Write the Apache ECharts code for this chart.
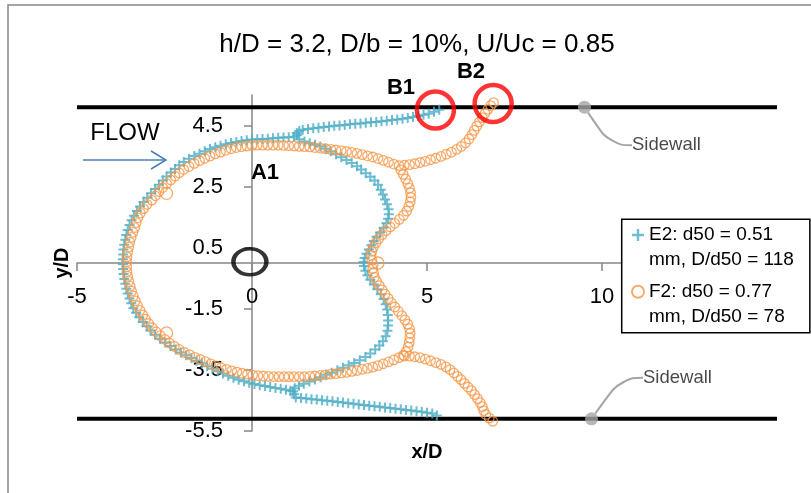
<!DOCTYPE html>
<html><head><meta charset="utf-8">
<script src="https://cdn.jsdelivr.net/npm/echarts@6/dist/echarts.min.js"></script>
<style>html,body{margin:0;padding:0;background:#fff}#c{width:811px;height:493px}</style>
</head><body><div id="c"></div>
<script>
const FONT = '"Liberation Sans", Arial, sans-serif';
const titleText = 'h/D = 3.2, D/b = 10%, U/Uc = 0.85';
const xTicks = [-5, 0, 5, 10, 15];
const yTicks = [-5.5, -3.5, -1.5, 0.5, 2.5, 4.5];
const seriesNames = ['\nE2: d50 = 0.51\nmm, D/d50 = 118', '\nF2: d50 = 0.77\nmm, D/d50 = 78'];

// E2 (blue +)
const e2Upper = [[5.35,5.02],[5.2,4.95],[5.05,4.89],[4.9,4.85],[4.75,4.81],[4.6,4.78],[4.45,4.75],[4.3,4.72],[4.15,4.7],[4.0,4.68],[3.85,4.66],[3.7,4.64],[3.55,4.62],[3.4,4.61],[3.25,4.59],[3.1,4.57],[2.95,4.56],[2.8,4.54],[2.65,4.52],[2.5,4.5],[2.35,4.49],[2.2,4.47],[2.05,4.45],[1.9,4.43],[1.75,4.41],[1.6,4.39],[1.45,4.36],[1.35,4.32],[1.28,4.26],[1.29,4.18]];
const e2Outer = [[1.2,4.13],[1.05,4.12],[0.9,4.11],[0.75,4.1],[0.6,4.08],[0.45,4.07],[0.3,4.06],[0.15,4.05],[0.0,4.04],[-0.15,4.02],[-0.3,3.99],[-0.45,3.96],[-0.6,3.93],[-0.75,3.89],[-0.9,3.84],[-1.05,3.79],[-1.2,3.73],[-1.35,3.66],[-1.5,3.58],[-1.65,3.5],[-1.8,3.41],[-1.95,3.31],[-2.08,3.2],[-2.2,3.08],[-2.32,2.96],[-2.44,2.83],[-2.55,2.7],[-2.66,2.56],[-2.77,2.42],[-2.88,2.28],[-2.99,2.14],[-3.1,2.0],[-3.2,1.85],[-3.29,1.7],[-3.37,1.55],[-3.44,1.4],[-3.5,1.24],[-3.55,1.08],[-3.59,0.92],[-3.62,0.76],[-3.65,0.6],[-3.67,0.44],[-3.68,0.28],[-3.69,0.12],[-3.69,-0.04],[-3.68,-0.2],[-3.67,-0.36],[-3.65,-0.52],[-3.62,-0.68],[-3.59,-0.84],[-3.55,-1.0],[-3.5,-1.16],[-3.45,-1.32],[-3.39,-1.48],[-3.31,-1.63],[-3.22,-1.78],[-3.12,-1.93],[-3.01,-2.07],[-2.9,-2.21],[-2.77,-2.35],[-2.63,-2.48],[-2.48,-2.6],[-2.33,-2.72],[-2.18,-2.83],[-2.03,-2.93],[-1.88,-3.02],[-1.73,-3.11],[-1.58,-3.2],[-1.43,-3.29],[-1.28,-3.38],[-1.13,-3.46],[-0.98,-3.54],[-0.83,-3.62],[-0.68,-3.69],[-0.53,-3.76],[-0.38,-3.82],[-0.23,-3.87],[-0.08,-3.92],[0.07,-3.96],[0.22,-4.0],[0.37,-4.03],[0.52,-4.06],[0.67,-4.09],[0.82,-4.12],[0.97,-4.15],[1.1,-4.18]];
const e2InnerTop = [[1.35,4.05],[1.5,3.98],[1.65,3.92],[1.8,3.87],[1.95,3.81],[2.1,3.74],[2.25,3.66],[2.4,3.56],[2.55,3.46],[2.7,3.37],[2.85,3.27],[3.0,3.17],[3.12,3.06],[3.25,2.94],[3.38,2.82],[3.5,2.7],[3.6,2.56],[3.68,2.4],[3.74,2.24],[3.8,2.08],[3.86,1.92],[3.9,1.76],[3.91,1.6],[3.89,1.45],[3.84,1.3],[3.76,1.15],[3.66,1.0],[3.56,0.86],[3.48,0.72],[3.41,0.58],[3.34,0.44],[3.27,0.3],[3.22,0.16],[3.19,0.03]];
const e2InnerBottom = [[3.2,-0.1],[3.24,-0.25],[3.3,-0.4],[3.38,-0.55],[3.48,-0.7],[3.58,-0.86],[3.68,-1.02],[3.76,-1.18],[3.82,-1.35],[3.86,-1.52],[3.88,-1.7],[3.89,-1.88],[3.89,-2.05],[3.87,-2.22],[3.82,-2.4],[3.74,-2.56],[3.64,-2.7],[3.52,-2.83],[3.38,-2.96],[3.24,-3.08],[3.08,-3.18],[2.92,-3.27],[2.76,-3.35],[2.6,-3.43],[2.44,-3.51],[2.28,-3.59],[2.12,-3.66],[1.96,-3.74],[1.8,-3.81],[1.64,-3.88],[1.48,-3.95],[1.34,-4.02],[1.22,-4.1],[1.17,-4.2]];
const e2Lower = [[1.2,-4.3],[1.25,-4.4],[1.4,-4.42],[1.55,-4.44],[1.7,-4.46],[1.85,-4.47],[2.0,-4.49],[2.15,-4.51],[2.3,-4.53],[2.45,-4.55],[2.6,-4.57],[2.75,-4.59],[2.9,-4.61],[3.05,-4.63],[3.2,-4.65],[3.35,-4.67],[3.5,-4.69],[3.65,-4.71],[3.8,-4.73],[3.95,-4.75],[4.1,-4.77],[4.25,-4.79],[4.4,-4.81],[4.55,-4.83],[4.7,-4.85],[4.85,-4.87],[5.0,-4.9],[5.15,-4.93],[5.28,-4.99]];

// F2 (orange o)
const f2Upper = [[6.9,5.25],[6.82,5.15],[6.74,5.03],[6.66,4.9],[6.58,4.76],[6.5,4.62],[6.42,4.48],[6.35,4.34],[6.28,4.2],[6.2,4.06],[6.1,3.93],[5.98,3.82],[5.85,3.72],[5.7,3.63],[5.55,3.56],[5.4,3.49],[5.25,3.43],[5.1,3.38],[4.95,3.33],[4.8,3.29],[4.65,3.25],[4.5,3.22],[4.35,3.2],[4.2,3.19]];
const f2UpperLeft = [[4.05,3.24],[3.9,3.3],[3.75,3.36],[3.6,3.42],[3.45,3.47],[3.3,3.51],[3.15,3.55],[3.0,3.59],[2.85,3.62],[2.7,3.65],[2.55,3.68],[2.4,3.7],[2.25,3.72],[2.1,3.74],[1.95,3.76],[1.8,3.78],[1.65,3.8],[1.5,3.81],[1.35,3.82],[1.2,3.83],[1.05,3.84],[0.9,3.85]];
const f2Outer = [[0.75,3.86],[0.6,3.86],[0.45,3.86],[0.3,3.86],[0.15,3.86],[0.0,3.85],[-0.15,3.83],[-0.3,3.81],[-0.45,3.78],[-0.6,3.74],[-0.75,3.69],[-0.9,3.63],[-1.05,3.57],[-1.2,3.5],[-1.35,3.43],[-1.5,3.35],[-1.65,3.26],[-1.8,3.16],[-1.95,3.06],[-2.08,2.95],[-2.2,2.84],[-2.32,2.72],[-2.44,2.6],[-2.55,2.47],[-2.66,2.34],[-2.76,2.2],[-2.86,2.06],[-3.0,1.92],[-3.1,1.78],[-3.19,1.63],[-3.26,1.48],[-3.31,1.32],[-3.35,1.16],[-3.4,1.0],[-3.45,0.84],[-3.49,0.68],[-3.52,0.52],[-3.55,0.36],[-3.57,0.2],[-3.58,0.04],[-3.58,-0.12],[-3.57,-0.28],[-3.55,-0.44],[-3.52,-0.6],[-3.48,-0.76],[-3.44,-0.92],[-3.39,-1.08],[-3.33,-1.24],[-3.27,-1.4],[-3.2,-1.55],[-3.12,-1.7],[-3.04,-1.84],[-2.95,-1.98],[-2.85,-2.12],[-2.74,-2.25],[-2.62,-2.38],[-2.49,-2.5],[-2.36,-2.62],[-2.22,-2.73],[-2.08,-2.83],[-1.93,-2.93],[-1.78,-3.01],[-1.63,-3.09],[-1.48,-3.16],[-1.33,-3.23],[-1.18,-3.3],[-1.03,-3.37],[-0.88,-3.43],[-0.73,-3.48],[-0.58,-3.53],[-0.43,-3.57],[-0.28,-3.61],[-0.13,-3.64],[0.02,-3.67],[0.17,-3.69],[0.32,-3.7],[0.47,-3.71],[0.62,-3.72],[0.77,-3.72],[0.92,-3.72]];
const f2BottomLeft = [[1.05,-3.72],[1.2,-3.72],[1.35,-3.72],[1.5,-3.72],[1.65,-3.71],[1.8,-3.7],[1.95,-3.68],[2.1,-3.66],[2.25,-3.64],[2.4,-3.62],[2.55,-3.6],[2.7,-3.58],[2.85,-3.55],[3.0,-3.52],[3.15,-3.48],[3.3,-3.45],[3.45,-3.41],[3.6,-3.36],[3.75,-3.3],[3.9,-3.24],[4.05,-3.17],[4.2,-3.1]];
const f2BottomRight = [[4.35,-3.05],[4.5,-3.05],[4.65,-3.07],[4.8,-3.1],[4.95,-3.15],[5.1,-3.2],[5.25,-3.26],[5.4,-3.32],[5.54,-3.4],[5.66,-3.49],[5.77,-3.6],[5.87,-3.71],[5.97,-3.82],[6.07,-3.94],[6.17,-4.06],[6.27,-4.18],[6.36,-4.31],[6.44,-4.44],[6.52,-4.57],[6.58,-4.7],[6.62,-4.83],[6.68,-4.96],[6.78,-5.08],[6.88,-5.18]];
const f2InnerTop = [[4.25,3.05],[4.32,2.9],[4.39,2.75],[4.45,2.6],[4.5,2.45],[4.53,2.3],[4.54,2.15],[4.52,2.0],[4.48,1.85],[4.42,1.7],[4.33,1.56],[4.21,1.43],[4.08,1.3],[3.95,1.18],[3.83,1.06],[3.72,0.93],[3.62,0.8],[3.54,0.66],[3.47,0.52],[3.42,0.38],[3.4,0.24],[3.42,0.1],[3.46,-0.04]];
const f2InnerBottom = [[3.45,-0.18],[3.47,-0.32],[3.5,-0.46],[3.56,-0.6],[3.64,-0.74],[3.72,-0.88],[3.8,-1.02],[3.89,-1.16],[3.98,-1.3],[4.08,-1.44],[4.18,-1.58],[4.28,-1.72],[4.37,-1.86],[4.45,-2.0],[4.5,-2.15],[4.52,-2.3],[4.51,-2.45],[4.49,-2.6],[4.46,-2.75],[4.4,-2.9],[4.32,-3.02]];
const f2Large = [[-2.44,2.28],[-2.44,-2.29],[3.6,0.0]];

// walls and annotations (data coordinates)
const sidewallY = [5.1, -5.1];
const sidewallXRange = [-5, 15];
const sidewallMarkers = [[9.5, 5.1], [9.7, -5.1]];
const sidewallLabel = 'Sidewall';
const redCircles = [[5.24, 5.01], [6.89, 5.22]];
const originMark = [[-0.06, 0.04]];

const crossPath = 'path://M4,0H6V4H10V6H6V10H4V6H0V4H4Z';
const BLUE = '#4bacc6', ORANGE = '#f79646', AXIS = '#868686';

// grid geometry (pixels)
const G = {left: 77, right: 34, top: 95, bottom: 62};
const plotW = 811 - G.left - G.right, plotH = 493 - G.top - G.bottom;
const xZeroOffset = -plotW * (0 - xTicks[0]) / (xTicks[xTicks.length - 1] - xTicks[0]);
const yZeroOffset = -plotH * (0 - yTicks[0]) / (5.5 - yTicks[0]);

const chart = echarts.init(document.getElementById('c'), null, {renderer: 'canvas'});
const e2Data = [].concat(e2Upper, e2Outer, e2InnerTop, e2InnerBottom, e2Lower);
const f2Data = [].concat(f2Upper, f2UpperLeft, f2Outer, f2BottomLeft, f2BottomRight, f2InnerTop, f2InnerBottom)
  .concat(f2Large.map(p => ({value: p, symbolSize: 12})));

const option = {
  animation: false,
  backgroundColor: '#fff',
  grid: {left: G.left, right: G.right, top: G.top, bottom: G.bottom, containLabel: false, outerBoundsMode: 'none'},
  xAxis: {
    type: 'value', min: xTicks[0], max: xTicks[xTicks.length - 1], interval: 5,
    position: 'bottom', offset: yZeroOffset,
    axisLine: {onZero: false, lineStyle: {color: AXIS, width: 1.5}},
    axisTick: {show: true, length: 8, lineStyle: {color: AXIS, width: 1.5}},
    axisLabel: {fontSize: 22, color: '#000', fontFamily: FONT, margin: 23},
    splitLine: {show: false},
    name: 'x/D', nameLocation: 'middle', nameGap: 179,
    nameTextStyle: {fontSize: 20, fontWeight: 'bold', color: '#000', fontFamily: FONT}
  },
  yAxis: {
    type: 'value', min: yTicks[0], max: 5.5, interval: 2,
    position: 'left', offset: xZeroOffset,
    axisLine: {onZero: false, lineStyle: {color: AXIS, width: 1.5}},
    axisTick: {show: true, length: 8, lineStyle: {color: AXIS, width: 1.5}, customValues: yTicks},
    axisLabel: {fontSize: 22, color: '#000', fontFamily: FONT, margin: 29, customValues: yTicks},
    splitLine: {show: false},
    name: 'y/D', nameLocation: 'middle', nameGap: 180, nameRotate: 90,
    nameTextStyle: {fontSize: 20, fontWeight: 'bold', color: '#000', fontFamily: FONT}
  },
  legend: {
    data: seriesNames,
    orient: 'vertical',
    left: 621.7, top: 219.3,
    padding: [-21.8, 16, 3.5, 9.3],
    itemGap: -18.3,
    itemWidth: 12, itemHeight: 12, itemTextGap: 5,
    backgroundColor: '#fff', borderColor: '#000', borderWidth: 1.5,
    textStyle: {fontSize: 19, lineHeight: 25, color: '#000', fontFamily: FONT}
  },
  series: [
    {type: 'line', name: 'wallTop', data: sidewallXRange.map(x => [x, sidewallY[0]]), showSymbol: false, silent: true,
     lineStyle: {color: '#000', width: 4}, z: 2},
    {type: 'line', name: 'wallBottom', data: sidewallXRange.map(x => [x, sidewallY[1]]), showSymbol: false, silent: true,
     lineStyle: {color: '#000', width: 4}, z: 2},
    {type: 'scatter', name: seriesNames[0], data: e2Data, symbol: crossPath, symbolSize: 10,
     itemStyle: {color: BLUE}, z: 3},
    {type: 'scatter', name: seriesNames[1], data: f2Data, symbol: 'circle', symbolSize: 9.5,
     itemStyle: {color: 'rgba(0,0,0,0)', borderColor: ORANGE, borderWidth: 1.3}, z: 4},
    {type: 'scatter', name: 'sidewallMarks', data: sidewallMarkers, symbol: 'circle', symbolSize: 13,
     itemStyle: {color: '#a5a5a5'}, z: 5, silent: true,
     label: {show: true, position: 'right', distance: 5, formatter: sidewallLabel, fontSize: 18.5, color: '#1a1a1a', fontFamily: FONT},
     labelLine: {show: true, smooth: 0.5, length2: 22, lineStyle: {color: '#a5a5a5', width: 2}},
     labelLayout: function (p) { return p.dataIndex === 0 ? {dx: 36, dy: 38} : {dx: 40, dy: -41}; }
    },
    {type: 'scatter', name: 'redCircles', data: redCircles, symbol: 'circle', symbolSize: 37, silent: true,
     itemStyle: {color: 'rgba(0,0,0,0)', borderColor: '#ff0000', borderWidth: 4.5}, z: 6},
    {type: 'scatter', name: 'origin', data: originMark, symbol: 'circle', symbolSize: [33, 26], silent: true,
     itemStyle: {color: 'rgba(0,0,0,0)', borderColor: '#000', borderWidth: 4}, z: 6}
  ],
  graphic: [
    {type: 'rect', shape: {x: 8, y: 5, width: 830, height: 520}, style: {fill: 'none', stroke: '#878787', lineWidth: 1.5}, silent: true, z: -10},
    {type: 'text', x: 417, y: 45, style: {text: titleText, font: '26px ' + FONT, fill: '#000', align: 'center', verticalAlign: 'middle'}, z: 10},
    {type: 'text', x: 125, y: 133, style: {text: 'FLOW', font: '24px ' + FONT, fill: '#000', align: 'center', verticalAlign: 'middle'}, z: 10},
    {type: 'text', x: 265, y: 173, style: {text: 'A1', font: 'bold 22px ' + FONT, fill: '#000', align: 'center', verticalAlign: 'middle'}, z: 10},
    {type: 'text', x: 401, y: 88, style: {text: 'B1', font: 'bold 22px ' + FONT, fill: '#000', align: 'center', verticalAlign: 'middle'}, z: 10},
    {type: 'text', x: 471, y: 72, style: {text: 'B2', font: 'bold 22px ' + FONT, fill: '#000', align: 'center', verticalAlign: 'middle'}, z: 10},
    {type: 'line', shape: {x1: 83, y1: 160, x2: 166, y2: 160}, style: {stroke: '#4a7ebb', lineWidth: 1.5}, z: 10},
    {type: 'polyline', shape: {points: [[151, 151], [166, 160], [151, 169]]}, style: {stroke: '#4a7ebb', lineWidth: 1.5, fill: 'none'}, z: 10}
  ]
};
chart.setOption(option);
</script></body></html>
